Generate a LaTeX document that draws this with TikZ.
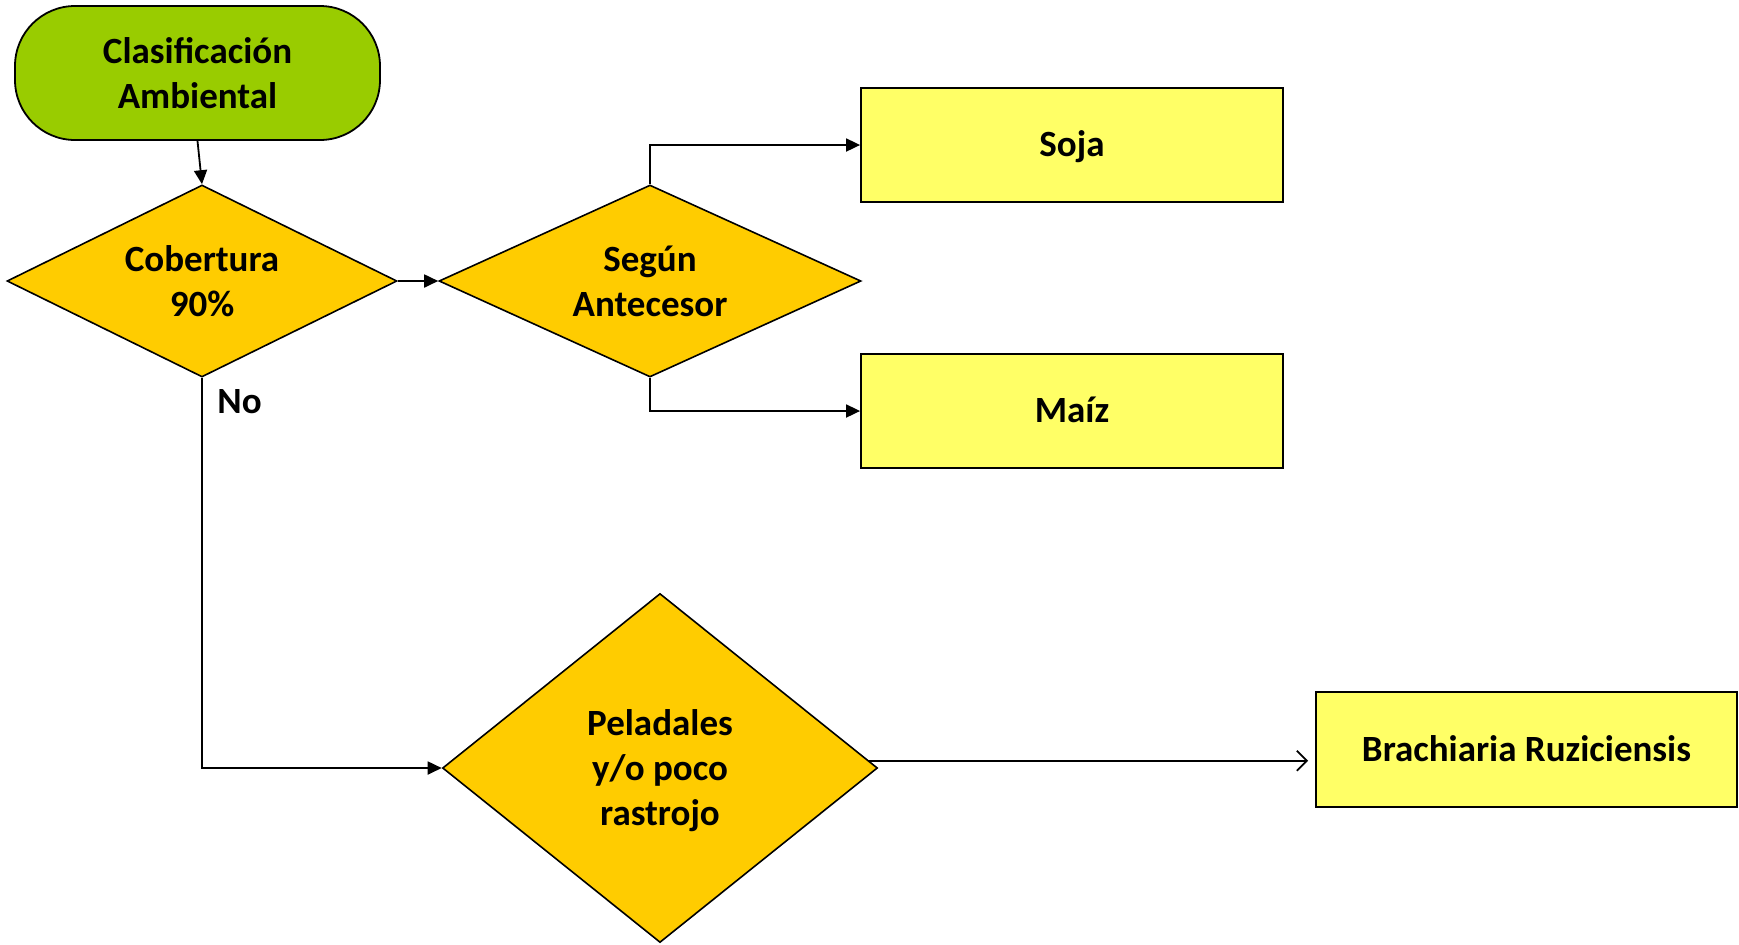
\documentclass[tikz,border=0pt]{standalone}
\usepackage{fontspec}
\setmainfont{Carlito}
\usetikzlibrary{shapes.geometric,arrows.meta}
\definecolor{termgreen}{HTML}{99CC00}
\definecolor{decgold}{HTML}{FFCC00}
\definecolor{boxyellow}{HTML}{FFFF66}
\tikzset{
  lbl/.style={font=\bfseries\fontsize{18.5}{22.5}\selectfont, align=center},
  termbox/.style={lbl, draw=black, line width=0.9pt, fill=termgreen, rounded corners=30pt,
    minimum width=182.5pt, minimum height=67pt, inner sep=0pt},
  decbox/.style={lbl, draw=black, line width=0.8pt, fill=decgold, diamond, inner sep=0pt},
  resbox/.style={lbl, draw=black, line width=0.9pt, fill=boxyellow, rectangle,
    minimum width=211pt, minimum height=57pt, inner sep=0pt, text height=13pt, text depth=1.1pt},
  conn/.style={draw=black, line width=0.9pt, -{Triangle[length=7pt,width=6.5pt]}},
  openconn/.style={draw=black, line width=0.9pt, -{Straight Barb[length=5pt,width=10pt,line width=0.9pt]}}
}
\begin{document}
\begin{tikzpicture}[x=0.5pt,y=-0.5pt]
\useasboundingbox (0,0) rectangle (1739,944);
\node[termbox] (amb) at (197.5,73) {Clasificación\\Ambiental};
\node[decbox, aspect=2.03, minimum width=195pt, minimum height=96pt] (cob) at (202,281) {Cobertura\\90\%};
\node[decbox, aspect=2.2, minimum width=211pt, minimum height=96pt, text depth=0pt] (seg) at (650,281) {Según\\Antecesor};
\node[resbox] (soja) at (1072,145) {Soja};
\node[resbox] (maiz) at (1072,411) {Maíz};
\node[decbox, aspect=1.25, minimum width=217.5pt, minimum height=174.5pt, text depth=0pt] (pel) at (660,768) {Peladales\\y/o poco\\rastrojo};
\node[resbox, minimum width=210.5pt, minimum height=57.5pt] (bra) at (1526.5,749.5) {Brachiaria Ruziciensis};
\node[lbl, anchor=west, inner sep=0pt] (no) at (217,402) {No};
\coordinate (pelturn) at (202,768);
\draw[conn] (amb.south) -- (cob.north);
\draw[conn] (cob.east) -- (seg.west);
\draw[conn] (seg.north) |- (soja.west);
\draw[conn] (seg.south) |- (maiz.west);
\draw[conn] (cob.south) -- (pelturn) -- (pel.west);
\draw[openconn, shorten >=3.5pt] (pel.2.6) -- (pel.2.6 -| bra.west);
\end{tikzpicture}
\end{document}
